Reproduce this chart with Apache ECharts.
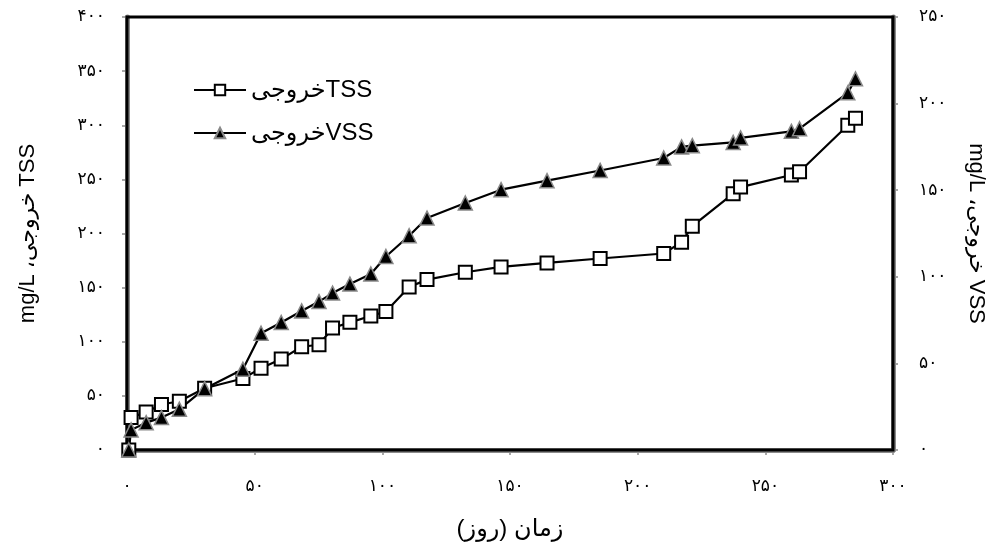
<!DOCTYPE html>
<html>
<head>
<meta charset="utf-8">
<script src="https://cdn.jsdelivr.net/npm/echarts@6/dist/echarts.min.js"></script>
<style>
html, body { margin: 0; padding: 0; background: #fff; }
#chart { width: 993px; height: 548px; }
</style>
</head>
<body>
<div id="chart"></div>
<script>
// روز
const days = [0.7, 1.6, 7.5, 13.5, 20.5, 30.4, 45.4, 52.5, 60.4, 68.4, 75.2, 80.5, 87.3, 95.5, 101.4,
    110.5, 117.5, 132.5, 146.5, 164.5, 185.3, 210.2, 217.2, 221.4, 237.4, 240.3, 260.2, 263.4, 282.3, 285.3]
// TSS خروجی (left axis)
const tss = [0, 30, 35, 42, 45, 57, 66, 75.6, 84, 95.4, 97.2, 112.7, 117.9, 123.8, 128,
    150.6, 157.4, 164.2, 169.1, 172.8, 176.9, 181.5, 192, 206.8, 236.8, 242.9, 254, 257.1, 300, 306.5]
// VSS خروجی (right axis)
const vss = [0, 11.6, 15.8, 18.7, 23.5, 35.4, 46.6, 67.4, 73.6, 80.3, 85.7, 90.6, 95.8, 101.6, 111.7,
    123.7, 133.9, 142.6, 150.3, 155.5, 161.4, 168.6, 175, 175.7, 177.6, 180.2, 184, 185.5, 206.2, 214.3]

const seriesNames = ['خروجیTSS', 'خروجیVSS']
const xName = 'زمان (روز)'
const leftName = 'mg/L ،خروجی TSS'
const rightName = 'mg/L ،خروجی VSS'

const faDigits = '۰۱۲۳۴۵۶۷۸۹'
const toFa = v => String(v).replace(/\d/g, d => faDigits[+d])

const labelFont = "'Liberation Serif', 'DejaVu Sans', serif"
const nameFont = "'Liberation Sans', Arial, 'DejaVu Sans', sans-serif"

const axisCommon = {
    splitLine: { show: false },
    axisLine: { show: true, lineStyle: { color: '#8c8c8c', width: 5 } },
    axisTick: { show: true, length: 5, lineStyle: { color: '#8c8c8c', width: 1.5 } },
    axisLabel: { color: '#000', fontSize: 17, fontFamily: labelFont, formatter: toFa },
    nameLocation: 'middle',
    nameTextStyle: { color: '#000', fontSize: 22, fontFamily: nameFont }
}

const chart = echarts.init(document.getElementById('chart'))

chart.setOption({
    animation: false,
    backgroundColor: '#fff',
    grid: {
        left: 127, right: 100, top: 17, bottom: 98,
        outerBoundsMode: 'none',
        show: true, borderColor: '#000', borderWidth: 3, z: 5
    },
    legend: {
        orient: 'vertical',
        left: 188,
        top: 73,
        itemWidth: 52,
        itemHeight: 13,
        itemGap: 19,
        textStyle: { color: '#000', fontSize: 24, fontFamily: nameFont },
        data: seriesNames
    },
    xAxis: {
        ...axisCommon,
        type: 'value',
        min: 0, max: 300, interval: 50,
        name: xName,
        nameGap: 67,
        nameTextStyle: { ...axisCommon.nameTextStyle, fontSize: 24 },
        axisLabel: { ...axisCommon.axisLabel, margin: 28 }
    },
    yAxis: [
        {
            ...axisCommon,
            type: 'value',
            min: 0, max: 400, interval: 50,
            position: 'left',
            name: leftName,
            nameGap: 88,
            nameRotate: 90,
            axisLabel: { ...axisCommon.axisLabel, margin: 22 }
        },
        {
            ...axisCommon,
            type: 'value',
            min: 0, max: 250, interval: 50,
            position: 'right',
            name: rightName,
            nameGap: 72,
            nameRotate: -90,
            axisLabel: { ...axisCommon.axisLabel, margin: 26 }
        }
    ],
    series: [
        {
            name: seriesNames[0],
            type: 'line',
            yAxisIndex: 0,
            z: 6,
            symbol: 'rect',
            symbolSize: 13,
            showAllSymbol: true,
            lineStyle: { color: '#000', width: 2.2 },
            itemStyle: { color: '#fff', borderColor: '#000', borderWidth: 2 },
            data: days.map((d, i) => [d, tss[i]])
        },
        {
            name: seriesNames[1],
            type: 'line',
            yAxisIndex: 1,
            z: 6,
            symbol: 'triangle',
            symbolSize: 14,
            showAllSymbol: true,
            lineStyle: { color: '#000', width: 2.2 },
            itemStyle: { color: '#000', borderColor: '#888', borderWidth: 1.5 },
            data: days.map((d, i) => [d, vss[i]])
        }
    ]
})
</script>
</body>
</html>
